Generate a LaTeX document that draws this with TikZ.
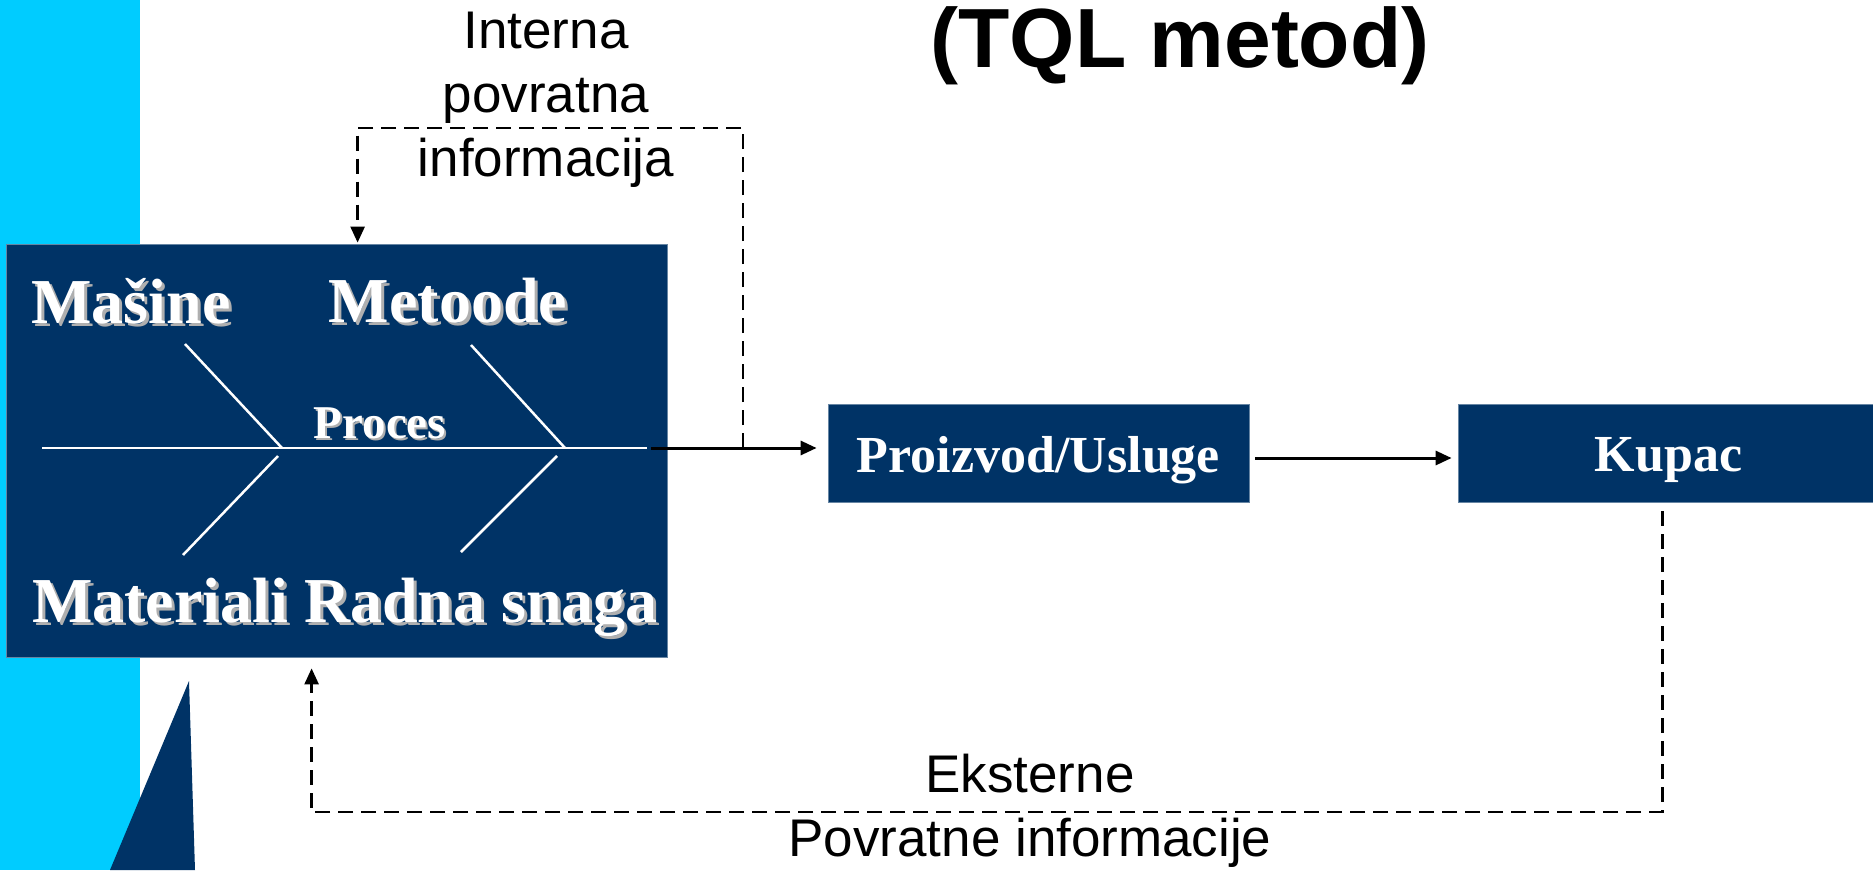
\documentclass[tikz,border=0pt]{standalone}
\usepackage{fontspec}
\setmainfont{Liberation Serif}
\setsansfont{Liberation Sans}
\usetikzlibrary{arrows.meta}
\definecolor{navy}{RGB}{0,51,102}
\definecolor{skyband}{RGB}{0,204,255}
\definecolor{shade}{RGB}{175,175,175}

\begin{document}
\begin{tikzpicture}[x=1pt,y=-1pt,
  panel/.style={fill=navy, draw=navy!60!white, line width=0.8pt, inner sep=0pt},
  bone/.style={draw=white, line width=2.5pt},
  flow/.style={line width=3pt, -{Triangle[length=16pt,width=14pt]}},
  feedback/.style={line width=2.5pt, dash pattern=on 15pt off 8pt,
    -{Triangle[length=16pt,width=14pt]}},
  cause/.style={font=\fontsize{64}{64}\selectfont\bfseries, text=white, inner sep=0pt},
  causeshadow/.style={cause, text=shade},
  small cause/.style={font=\fontsize{47}{47}\selectfont\bfseries, text=white, inner sep=0pt},
  small shadow/.style={small cause, text=shade},
  boxlabel/.style={font=\fontsize{52}{52}\selectfont\bfseries, text=white},
  note/.style={font=\sffamily\fontsize{53}{64}\selectfont, align=center, inner sep=0pt},
  heading/.style={font=\sffamily\bfseries\fontsize{84}{84}\selectfont, inner sep=0pt},
]
\useasboundingbox (0,0) rectangle (1873,870);

% side band and wedge
\fill[skyband] (0,0) rectangle (140,870);
\fill[navy] (189,681) -- (110,870) -- (195,870) -- cycle;

% title
\node[heading] (title) at (1180,46) {(TQL metod)};

% process panel with fishbone
\node[panel, minimum width=661pt, minimum height=413pt] (proc) at (336.5,450.5) {};
\coordinate (spinestart) at (42,448);
\coordinate (spineend) at (647,448);
\coordinate (flowstart) at (651,448);
\draw[bone] (spinestart) -- (spineend);
\draw[bone] (185,344) -- (282,448);
\draw[bone] (278,456) -- (183,555);
\draw[bone] (471,345) -- (565,448);
\draw[bone] (557,456) -- (461,552);

\node[causeshadow] (masine-s) at (134,304) {Mašine};
\node[cause] (masine) at (131,301) {Mašine};
\node[causeshadow] (metoode-s) at (451,304) {Metoode};
\node[cause] (metoode) at (448,301) {Metoode};
\node[causeshadow] (radna-s) at (348,610) {Materiali Radna snaga};
\node[cause] (radna) at (345,607) {Materiali Radna snaga};
\node[small shadow] (proces-s) at (382,425) {Proces};
\node[small cause] (proces) at (380,423) {Proces};

% output boxes
\node[panel, minimum width=421pt, minimum height=98pt] (prod) at (1038.5,453) {};
\node[boxlabel] (prodlabel) at ([yshift=-7pt]prod.center) {Proizvod/Usluge};
\node[panel, minimum width=421pt, minimum height=98pt] (kupac) at (1668.5,453) {};
\node[boxlabel] (kupaclabel) at ([yshift=-7pt]kupac.center) {Kupac};

% main flow
\draw[flow, shorten >=11pt] (flowstart) -- (flowstart -| prod.west);
\draw[flow, shorten <=6pt, shorten >=6pt] ([yshift=-5pt]prod.east) -- ([yshift=-5pt]kupac.west);

% internal feedback loop
\coordinate (tap) at (743,448);
\draw[feedback] (tap) -- (743,128) -| ([xshift=352pt,yshift=1pt]proc.north west);
\node[note] (internal) at (546,100) {Interna\\povratna\\informacija};

% external feedback loop
\coordinate (kstart) at ([xshift=-6pt,yshift=-9pt]kupac.south);
\draw[feedback] (kstart) -- (kstart |- 0,812) -| ([xshift=306pt,yshift=-11pt]proc.south west);
\node[note] (external) at (1030,811) {Eksterne\\Povratne informacije};
\end{tikzpicture}
\end{document}
